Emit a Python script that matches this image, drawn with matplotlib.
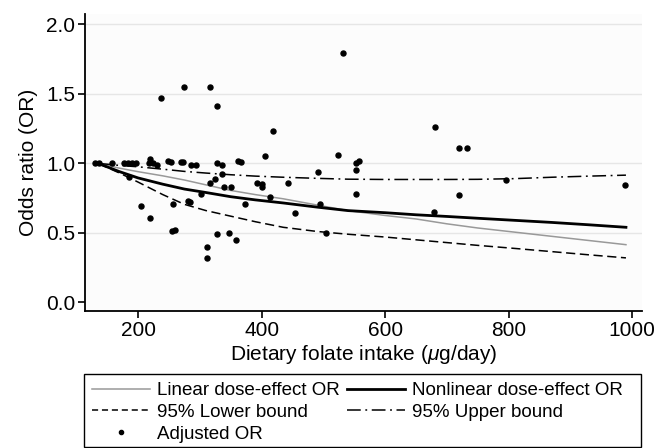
import matplotlib
matplotlib.use("Agg")
import matplotlib.pyplot as plt
from matplotlib.lines import Line2D
from matplotlib.patches import Rectangle

plt.rcParams['font.family'] = ['Liberation Sans', 'DejaVu Sans']
plt.rcParams['mathtext.fontset'] = 'custom'
plt.rcParams['mathtext.it'] = 'Liberation Sans:italic'
plt.rcParams['mathtext.rm'] = 'Liberation Sans'

# Adjusted OR points
pt_x = [130, 137, 158, 177, 183, 190, 196, 185, 204, 220, 217, 220, 224, 230,
        237, 248, 254, 257, 255, 259, 269, 273, 275, 280, 284, 285, 293, 302,
        311, 311, 316, 317, 325, 328, 328, 336, 336, 328, 339, 350, 347, 359,
        361, 367, 373, 393, 400, 401, 405, 413, 418, 442, 454, 492, 495, 505,
        523, 531, 553, 553, 553, 557, 680, 679, 720, 732, 720, 796, 988]
pt_y = [1.00, 1.00, 1.00, 1.00, 1.00, 1.00, 1.00, 0.90, 0.69, 0.61, 1.00, 1.03, 1.00, 0.99,
        1.47, 1.02, 1.01, 0.71, 0.51, 0.52, 1.01, 1.01, 1.55, 0.73, 0.72, 0.99, 0.99, 0.78,
        0.40, 0.32, 1.55, 0.86, 0.89, 1.41, 1.00, 0.99, 0.92, 0.49, 0.83, 0.83, 0.50, 0.45,
        1.02, 1.01, 0.71, 0.86, 0.85, 0.83, 1.05, 0.76, 1.23, 0.86, 0.64, 0.94, 0.71, 0.50,
        1.06, 1.79, 0.95, 0.78, 1.00, 1.02, 1.26, 0.65, 1.11, 1.11, 0.77, 0.88, 0.845]

# curves read at these intake values
curve_x = [135, 170, 200, 240, 275, 310, 350, 390, 435, 490, 540, 600, 650, 700, 750, 810, 870, 930, 990]
linear_or = [1.0, 0.965, 0.94, 0.91, 0.88, 0.845, 0.805, 0.775, 0.745, 0.70, 0.66, 0.625, 0.60, 0.565,
             0.535, 0.505, 0.475, 0.445, 0.415]
nonlinear_or = [1.0, 0.94, 0.895, 0.85, 0.815, 0.79, 0.76, 0.737, 0.715, 0.685, 0.66, 0.645, 0.63,
                0.618, 0.605, 0.59, 0.575, 0.558, 0.54]
lower_or = [1.0, 0.93, 0.865, 0.775, 0.705, 0.66, 0.62, 0.58, 0.54, 0.51, 0.49, 0.47, 0.45, 0.43,
            0.41, 0.388, 0.365, 0.342, 0.32]
upper_or = [1.0, 0.985, 0.975, 0.958, 0.942, 0.93, 0.918, 0.908, 0.90, 0.892, 0.886, 0.884, 0.884,
            0.884, 0.885, 0.89, 0.90, 0.908, 0.915]

x_ticks = [200, 400, 600, 800, 1000]
y_ticks = [0.0, 0.5, 1.0, 1.5, 2.0]

fs = 13.5      # legend text
fs_ax = 15     # ticks and axis titles
W, H = 656, 448
fig = plt.figure(figsize=(6.56, 4.48), dpi=100)
ax = fig.add_axes([85/W, 1 - 311/H, (642-85)/W, (311-14)/H])
ax.set_facecolor('#fcfcfc')

for yv in [0.5, 1.0, 1.5, 2.0]:
    ax.axhline(yv, color='#e6e6e6', lw=1, zorder=0)

dashdot = (0, (9, 3, 1.2, 3))
ax.plot(curve_x, linear_or, color='#999999', lw=1.1, zorder=2)
ax.plot(curve_x, nonlinear_or, color='black', lw=2.0, zorder=2)
ax.plot(curve_x, lower_or, color='black', lw=1.1, ls=(0, (6, 3)), zorder=2)
ax.plot(curve_x, upper_or, color='black', lw=1.1, ls=dashdot, zorder=2)
ax.plot(pt_x, pt_y, 'o', color='black', ms=3.6, zorder=3)

ax.set_xlim(114, 1016)
ax.set_ylim(-0.062, 2.074)
ax.set_xticks(x_ticks)
ax.set_yticks(y_ticks)
ax.set_yticklabels([f"{v:.1f}" for v in y_ticks])
ax.tick_params(labelsize=fs_ax, direction='out', length=5, width=1.2, colors='black')
ax.tick_params(axis='x', pad=2)
ax.tick_params(axis='y', pad=2)
for s in ['top', 'right']:
    ax.spines[s].set_visible(False)
for s in ['left', 'bottom']:
    ax.spines[s].set_linewidth(1.3)

ax.set_xlabel(r"Dietary folate intake ($\mu$g/day)", fontsize=fs_ax, labelpad=2)
ax.set_ylabel("Odds ratio (OR)", fontsize=fs_ax, labelpad=6)

# legend frame drawn as its own box, legend itself has no frame
fig.patches.append(Rectangle((84/W, 1 - 447/H), (641-84)/W, (447-374)/H,
                             transform=fig.transFigure, fill=False,
                             edgecolor='black', lw=1.0))

handles = [
    Line2D([], [], color='#999999', lw=1.1),
    Line2D([], [], color='black', lw=1.1, ls=(0, (4, 2.5))),
    Line2D([], [], color='black', marker='o', ms=3.0, ls='none'),
    Line2D([], [], color='black', lw=2.0),
    Line2D([], [], color='black', lw=1.1, ls=dashdot),
]
labels = ["Linear dose-effect OR", "95% Lower bound", "Adjusted OR",
          "Nonlinear dose-effect OR", "95% Upper bound"]
leg = fig.legend(handles, labels, loc='upper left', ncol=2,
                 bbox_to_anchor=(92/W, 1 - 382/H), borderaxespad=0,
                 fontsize=fs, frameon=False, handlelength=3.1,
                 handletextpad=0.37, borderpad=0, labelspacing=0.25,
                 columnspacing=0.37)

fig.savefig('out.png', dpi=100)
